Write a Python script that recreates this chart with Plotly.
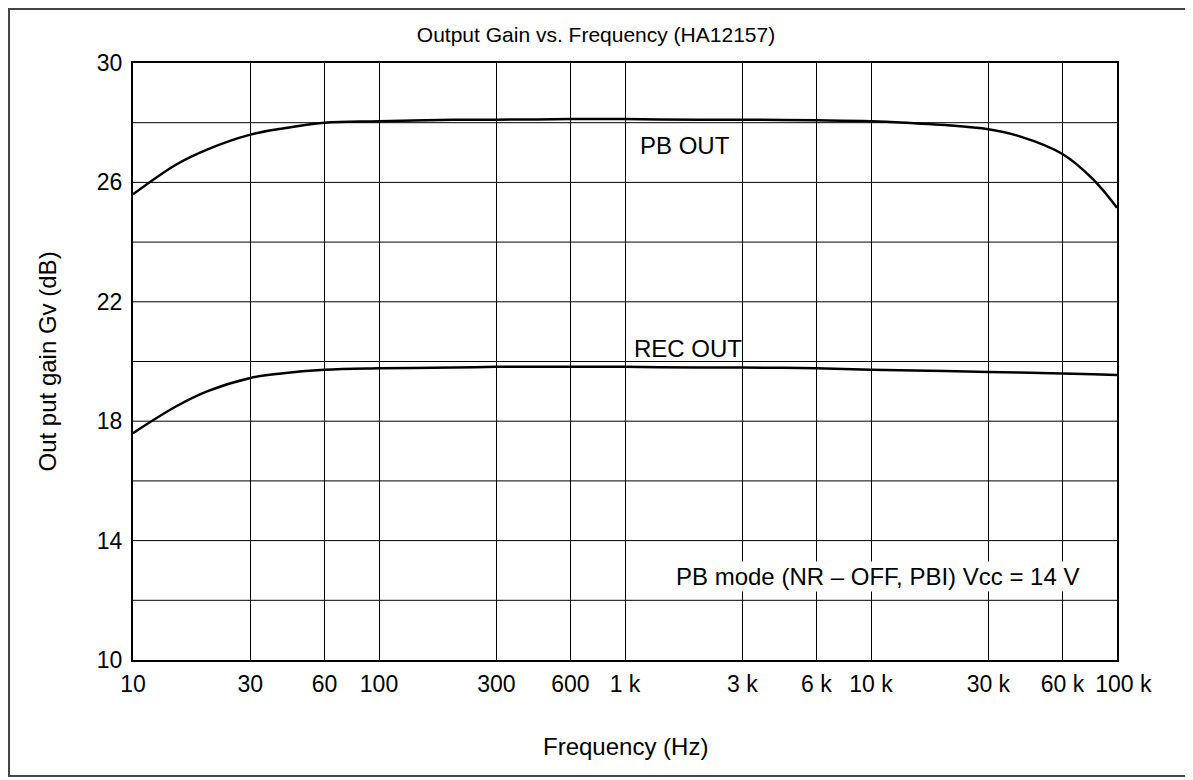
import plotly.graph_objects as go

freq = [10, 15, 20, 30, 40, 60, 100, 200, 300, 600, 1000, 2000, 3000, 6000,
        10000, 15000, 20000, 30000, 40000, 60000, 80000, 100000]
pb_out = [25.6, 26.6, 27.1, 27.6, 27.8, 28.0, 28.05, 28.1, 28.1, 28.12, 28.12, 28.1, 28.1, 28.08,
          28.05, 27.98, 27.92, 27.78, 27.55, 26.95, 26.1, 25.15]
rec_out = [17.6, 18.5, 19.0, 19.45, 19.6, 19.72, 19.77, 19.8, 19.82, 19.82, 19.82, 19.8, 19.8, 19.77,
           19.72, 19.7, 19.68, 19.65, 19.63, 19.6, 19.57, 19.55]

tick_vals = [10, 30, 60, 100, 300, 600, 1000, 3000, 6000, 10000, 30000, 60000, 100000]
tick_text = ["10", "30", "60", "100", "300", "600", "1 k", "3 k", "6 k", "10 k", "30 k", "60 k",
             "\u00a0\u00a0100 k"]
y_ticks = [10, 14, 18, 22, 26, 30]

fnt = "Liberation Sans, Arial, sans-serif"

fig = go.Figure()
fig.add_trace(go.Scatter(x=freq, y=pb_out, mode="lines", line=dict(color="black", width=2.5, shape="spline"),
                         showlegend=False, hoverinfo="skip"))
fig.add_trace(go.Scatter(x=freq, y=rec_out, mode="lines", line=dict(color="black", width=2.5, shape="spline"),
                         showlegend=False, hoverinfo="skip"))

fig.update_layout(
    width=1193, height=780,
    margin=dict(l=125, r=84, t=55, b=128),
    paper_bgcolor="white", plot_bgcolor="white",
    font=dict(family=fnt, size=23, color="black"),
    title=dict(text="Output Gain vs. Frequency (HA12157)", x=588 / 1193, xanchor="center",
               y=1 - 27 / 780, yanchor="middle", font=dict(size=21)),
    xaxis=dict(type="log", range=[1, 5], tickvals=tick_vals, ticktext=tick_text, tickangle=0,
               showgrid=True, gridcolor="black", gridwidth=1, showline=True, linecolor="black",
               linewidth=2, mirror=True, ticks="", zeroline=False, ticklabelstandoff=2,
               tickfont=dict(size=23)),
    yaxis=dict(range=[10, 30], tickvals=y_ticks, showgrid=False,
               showline=True, linecolor="black", linewidth=2, mirror=True, ticks="", zeroline=False,
               ticklabelstandoff=4, tickfont=dict(size=23)),
)

# horizontal grid every 2 dB
for yv in range(12, 30, 2):
    fig.add_shape(type="line", xref="paper", yref="y", x0=0, x1=1, y0=yv, y1=yv,
                  line=dict(color="black", width=1), layer="below")

# axis titles
fig.add_annotation(xref="paper", yref="paper", x=-0.0864, y=0.5, text="Out put gain Gv (dB)",
                   textangle=-90, showarrow=False, font=dict(size=24), xanchor="center", yanchor="middle")
fig.add_annotation(xref="paper", yref="paper", x=0.5, y=-0.1457, text="Frequency (Hz)",
                   showarrow=False, font=dict(size=24), xanchor="center", yanchor="middle")

fig.add_annotation(x=3.244, y=27.22, text="PB OUT", showarrow=False, font=dict(size=24),
                   xanchor="center", yanchor="middle")
fig.add_annotation(x=3.256, y=20.42, text="REC OUT", showarrow=False, font=dict(size=24),
                   xanchor="center", yanchor="middle")
fig.add_annotation(x=4.028, y=12.81, text="PB mode (NR \u2013 OFF, PBI) Vcc = 14 V", showarrow=False,
                   font=dict(size=24), xanchor="center", yanchor="middle", bgcolor="white")

# outer frame
fig.add_shape(type="rect", xref="paper", yref="paper", x0=-0.126, x1=1.0732, y0=-0.1943, y1=1.0905,
              line=dict(color="#444", width=2))

fig.write_html("out.html")
